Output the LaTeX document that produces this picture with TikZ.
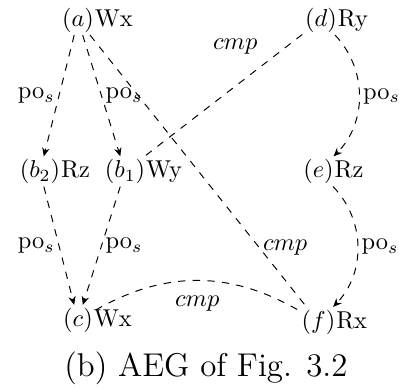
\documentclass[tikz,border=0pt]{standalone}
\usetikzlibrary{arrows.meta}

\begin{document}
\begin{tikzpicture}[
  ev/.style={inner sep=1pt, text height=7.5pt, text depth=2.5pt},
  op/.style={inner sep=0pt, text height=7.5pt, text depth=2.5pt},
  rel/.style={dashed},
  lab/.style={inner sep=1.5pt},
  label distance=-1pt,
  >={Stealth[length=3.5pt,width=3pt]}
]
  \useasboundingbox (0,0) rectangle (5.749,-5.576);

  \node[ev, label={[op]right:Wx}] (a)  at (1.124,-0.288) {$(a)$};
  \node[ev, label={[op]right:Ry}] (d)  at (4.625,-0.288) {$(d)$};
  \node[ev, label={[op]right:Rz}] (b2) at (0.576,-2.471) {$(b_2)$};
  \node[ev, label={[op]right:Wy}] (b1) at (1.801,-2.471) {$(b_1)$};
  \node[ev, label={[op]right:Rz}] (e)  at (4.589,-2.471) {$(e)$};
  \node[ev, label={[op]right:Wx}] (c)  at (1.124,-4.611) {$(c)$};
  \node[ev, label={[op]right:Rx}] (f)  at (4.589,-4.640) {$(f)$};

  \draw[rel,->] (a) -- (b2) node[lab, midway, left] {po$_s$};
  \draw[rel,->] (a) -- (b1) node[lab, midway, right] {po$_s$};
  \draw[rel] (a) -- (f) node[lab, pos=0.78, right] {$cmp$};
  \draw[rel] (d) -- (b1) node[pos=0.23, above left] {$cmp$};
  \draw[rel,->] (d) to[bend left=44] node[lab, midway, right] {po$_s$} (e);
  \draw[rel,->] (e) to[bend left=44] node[lab, midway, right] {po$_s$} (f);
  \draw[rel,->] (b2) -- (c) node[lab, midway, left] {po$_s$};
  \draw[rel,->] (b1) -- (c) node[lab, midway, right] {po$_s$};
  \draw[rel] (c) to[bend left=30] node[midway, below=3pt] {$cmp$} (f);

  \node (cap) at (2.968,-5.303) {\fontsize{13.5}{16}\selectfont (b) AEG of Fig. 3.2};
\end{tikzpicture}
\end{document}
